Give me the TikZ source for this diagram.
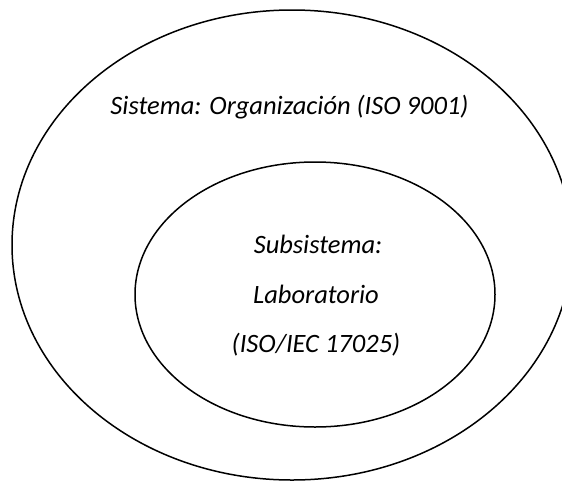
\documentclass[tikz,border=0pt]{standalone}
\usepackage{fontspec}
\setmainfont{Carlito}
\begin{document}
\begin{tikzpicture}[x=1pt,y=-1pt,
  ring/.style={draw=black, line width=1.5pt},
  lbl/.style={font=\fontsize{26.5}{32}\selectfont\itshape, anchor=base, inner sep=0pt}]
\useasboundingbox (0,0) rectangle (562,480);
\clip (0,0) rectangle (562,480);
% outer system and inner subsystem
\draw[ring] (292,245) ellipse [x radius=280, y radius=235];
\draw[ring] (315,294.5) ellipse [x radius=180, y radius=132.5];
\node[lbl] (sys) at (289.5,114) {Sistema: Organización (ISO 9001)};
\node[lbl] (sub1) at (318,253) {Subsistema:};
\node[lbl] (sub2) at (316,303) {Laboratorio};
\node[lbl] (sub3) at (316,352) {(ISO/IEC 17025)};
\end{tikzpicture}
\end{document}
